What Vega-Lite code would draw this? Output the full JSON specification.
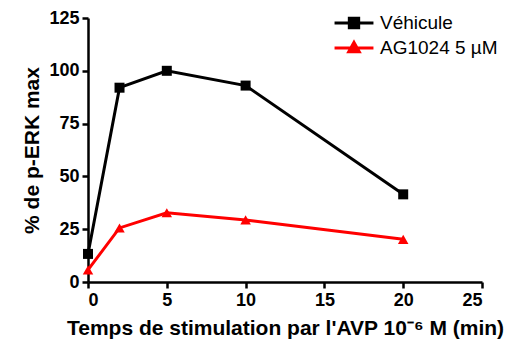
{
  "$schema": "https://vega.github.io/schema/vega-lite/v6.json",
  "autosize": "none",
  "width": 394,
  "height": 264,
  "padding": {"left": 88, "top": 18, "right": 28, "bottom": 74},
  "background": "white",
  "config": {
    "view": {"stroke": null},
    "font": "Liberation Sans",
    "axis": {
      "grid": false,
      "domainColor": "black",
      "domainWidth": 2.5,
      "tickColor": "black",
      "tickWidth": 2.5,
      "tickSize": 6,
      "labelFont": "Liberation Sans",
      "labelFontSize": 18,
      "labelFontWeight": "bold",
      "labelColor": "black",
      "titleFont": "Liberation Sans",
      "titleColor": "black",
      "titleFontWeight": "bold",
      "titleFontSize": 21
    }
  },
  "data": {
    "values": [
      {"t": 0, "v": 13.3, "s": "Véhicule"},
      {"t": 2, "v": 92, "s": "Véhicule"},
      {"t": 5, "v": 100, "s": "Véhicule"},
      {"t": 10, "v": 93, "s": "Véhicule"},
      {"t": 20, "v": 41.5, "s": "Véhicule"},
      {"t": 0, "v": 5.7, "s": "AG1024 5 µM"},
      {"t": 2, "v": 25.6, "s": "AG1024 5 µM"},
      {"t": 5, "v": 32.8, "s": "AG1024 5 µM"},
      {"t": 10, "v": 29.4, "s": "AG1024 5 µM"},
      {"t": 20, "v": 20.2, "s": "AG1024 5 µM"}
    ]
  },
  "encoding": {
    "x": {
      "field": "t", "type": "quantitative",
      "scale": {"domain": [0, 25], "nice": false, "zero": false},
      "axis": {"values": [0, 5, 10, 15, 20, 25], "title": "Temps de stimulation par l'AVP 10⁻⁶ M (min)", "titlePadding": 8, "labelPadding": 3}
    },
    "y": {
      "field": "v", "type": "quantitative",
      "scale": {"domain": [0, 125], "nice": false},
      "axis": {"values": [0, 25, 50, 75, 100, 125], "title": "% de p-ERK max", "titlePadding": 6, "labelPadding": 3}
    },
    "color": {
      "field": "s", "type": "nominal",
      "scale": {"domain": ["Véhicule", "AG1024 5 µM"], "range": ["black", "#ff0000"]},
      "legend": {
        "title": null,
        "orient": "none",
        "legendX": 255,
        "legendY": -6,
        "labelFontSize": 19,
        "labelFont": "Liberation Sans",
        "labelColor": "black",
        "symbolSize": 350,
        "labelOffset": 15,
        "rowPadding": 2,
        "encode": {
          "symbols": {
            "update": {
              "shape": {"signal": "datum.value === 'Véhicule' ? 'M-2.08,0H2.08M-0.5,-0.5H0.5V0.5H-0.5Z' : 'M-2.08,0H2.08M0,-0.6L0.56,0.4H-0.56Z'"},
              "fill": {"signal": "datum.value === 'Véhicule' ? 'black' : '#ff0000'"},
              "stroke": {"signal": "datum.value === 'Véhicule' ? 'black' : '#ff0000'"},
              "strokeWidth": {"value": 3},
              "size": {"value": 350},
              "opacity": {"value": 1}
            }
          }
        }
      }
    }
  },
  "layer": [
    {"mark": {"type": "line", "strokeWidth": 3}},
    {
      "transform": [{"filter": "datum.s === 'Véhicule'"}],
      "mark": {"type": "point", "filled": true, "size": 100, "opacity": 1, "shape": "square"}
    },
    {
      "transform": [{"filter": "datum.s !== 'Véhicule'"}],
      "mark": {"type": "point", "filled": true, "size": 110, "opacity": 1, "shape": "triangle-up"}
    }
  ]
}
